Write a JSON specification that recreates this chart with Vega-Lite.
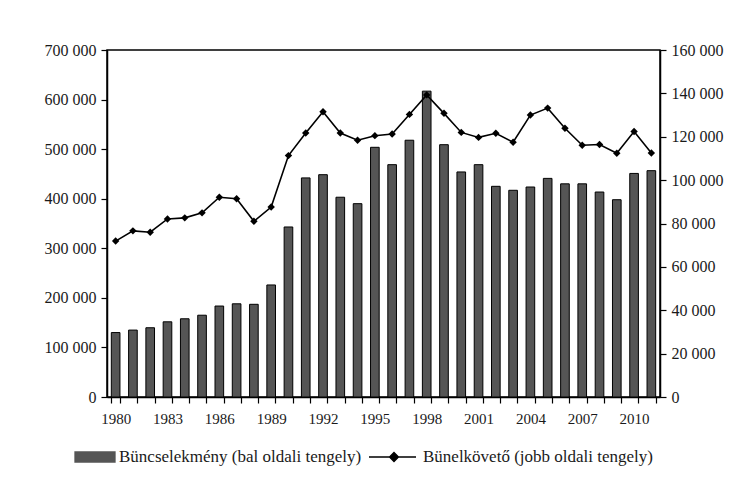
{
  "$schema": "https://vega.github.io/schema/vega-lite/v6.json",
  "width": 553,
  "height": 347,
  "autosize": "none",
  "padding": {"left": 107, "top": 50, "right": 89, "bottom": 90},
  "background": "white",
  "config": {
    "font": "Liberation Serif",
    "view": {"stroke": "black", "strokeWidth": 1.5},
    "axis": {"labelFont": "Liberation Serif", "labelFontSize": 15, "labelColor": "#1a1a1a", "domainColor": "black", "tickColor": "black", "domainWidth": 1.5, "tickWidth": 1.2, "grid": false, "title": null},
    "legend": {"labelFont": "Liberation Serif", "labelFontSize": 17, "labelColor": "#1a1a1a", "labelLimit": 0}
  },
  "data": {
    "values": [
      {"year": 1980, "series": "Büncselekmény (bal oldali tengely)", "value": 130000},
      {"year": 1981, "series": "Büncselekmény (bal oldali tengely)", "value": 135000},
      {"year": 1982, "series": "Büncselekmény (bal oldali tengely)", "value": 139700},
      {"year": 1983, "series": "Büncselekmény (bal oldali tengely)", "value": 151700},
      {"year": 1984, "series": "Büncselekmény (bal oldali tengely)", "value": 157800},
      {"year": 1985, "series": "Büncselekmény (bal oldali tengely)", "value": 165000},
      {"year": 1986, "series": "Büncselekmény (bal oldali tengely)", "value": 183500},
      {"year": 1987, "series": "Büncselekmény (bal oldali tengely)", "value": 188000},
      {"year": 1988, "series": "Büncselekmény (bal oldali tengely)", "value": 187000},
      {"year": 1989, "series": "Büncselekmény (bal oldali tengely)", "value": 226000},
      {"year": 1990, "series": "Büncselekmény (bal oldali tengely)", "value": 343000},
      {"year": 1991, "series": "Büncselekmény (bal oldali tengely)", "value": 442000},
      {"year": 1992, "series": "Büncselekmény (bal oldali tengely)", "value": 448500},
      {"year": 1993, "series": "Büncselekmény (bal oldali tengely)", "value": 403000},
      {"year": 1994, "series": "Büncselekmény (bal oldali tengely)", "value": 390000},
      {"year": 1995, "series": "Büncselekmény (bal oldali tengely)", "value": 503700},
      {"year": 1996, "series": "Büncselekmény (bal oldali tengely)", "value": 468700},
      {"year": 1997, "series": "Büncselekmény (bal oldali tengely)", "value": 518000},
      {"year": 1998, "series": "Büncselekmény (bal oldali tengely)", "value": 617000},
      {"year": 1999, "series": "Büncselekmény (bal oldali tengely)", "value": 509000},
      {"year": 2000, "series": "Büncselekmény (bal oldali tengely)", "value": 454000},
      {"year": 2001, "series": "Büncselekmény (bal oldali tengely)", "value": 468700},
      {"year": 2002, "series": "Büncselekmény (bal oldali tengely)", "value": 425000},
      {"year": 2003, "series": "Büncselekmény (bal oldali tengely)", "value": 417000},
      {"year": 2004, "series": "Büncselekmény (bal oldali tengely)", "value": 423600},
      {"year": 2005, "series": "Büncselekmény (bal oldali tengely)", "value": 441000},
      {"year": 2006, "series": "Büncselekmény (bal oldali tengely)", "value": 430000},
      {"year": 2007, "series": "Büncselekmény (bal oldali tengely)", "value": 430000},
      {"year": 2008, "series": "Büncselekmény (bal oldali tengely)", "value": 413500},
      {"year": 2009, "series": "Büncselekmény (bal oldali tengely)", "value": 398000},
      {"year": 2010, "series": "Büncselekmény (bal oldali tengely)", "value": 451000},
      {"year": 2011, "series": "Büncselekmény (bal oldali tengely)", "value": 456600},
      {"year": 1980, "series": "Bünelkövető (jobb oldali tengely)", "value": 71900},
      {"year": 1981, "series": "Bünelkövető (jobb oldali tengely)", "value": 76600},
      {"year": 1982, "series": "Bünelkövető (jobb oldali tengely)", "value": 76000},
      {"year": 1983, "series": "Bünelkövető (jobb oldali tengely)", "value": 82100},
      {"year": 1984, "series": "Bünelkövető (jobb oldali tengely)", "value": 82600},
      {"year": 1985, "series": "Bünelkövető (jobb oldali tengely)", "value": 84900},
      {"year": 1986, "series": "Bünelkövető (jobb oldali tengely)", "value": 92100},
      {"year": 1987, "series": "Bünelkövető (jobb oldali tengely)", "value": 91400},
      {"year": 1988, "series": "Bünelkövető (jobb oldali tengely)", "value": 81000},
      {"year": 1989, "series": "Bünelkövető (jobb oldali tengely)", "value": 87600},
      {"year": 1990, "series": "Bünelkövető (jobb oldali tengely)", "value": 111300},
      {"year": 1991, "series": "Bünelkövető (jobb oldali tengely)", "value": 121700},
      {"year": 1992, "series": "Bünelkövető (jobb oldali tengely)", "value": 131500},
      {"year": 1993, "series": "Bünelkövető (jobb oldali tengely)", "value": 121700},
      {"year": 1994, "series": "Bünelkövető (jobb oldali tengely)", "value": 118400},
      {"year": 1995, "series": "Bünelkövető (jobb oldali tengely)", "value": 120500},
      {"year": 1996, "series": "Bünelkövető (jobb oldali tengely)", "value": 121300},
      {"year": 1997, "series": "Bünelkövető (jobb oldali tengely)", "value": 130300},
      {"year": 1998, "series": "Bünelkövető (jobb oldali tengely)", "value": 139300},
      {"year": 1999, "series": "Bünelkövető (jobb oldali tengely)", "value": 130800},
      {"year": 2000, "series": "Bünelkövető (jobb oldali tengely)", "value": 122000},
      {"year": 2001, "series": "Bünelkövető (jobb oldali tengely)", "value": 119700},
      {"year": 2002, "series": "Bünelkövető (jobb oldali tengely)", "value": 121600},
      {"year": 2003, "series": "Bünelkövető (jobb oldali tengely)", "value": 117500},
      {"year": 2004, "series": "Bünelkövető (jobb oldali tengely)", "value": 130000},
      {"year": 2005, "series": "Bünelkövető (jobb oldali tengely)", "value": 133200},
      {"year": 2006, "series": "Bünelkövető (jobb oldali tengely)", "value": 123900},
      {"year": 2007, "series": "Bünelkövető (jobb oldali tengely)", "value": 116100},
      {"year": 2008, "series": "Bünelkövető (jobb oldali tengely)", "value": 116400},
      {"year": 2009, "series": "Bünelkövető (jobb oldali tengely)", "value": 112400},
      {"year": 2010, "series": "Bünelkövető (jobb oldali tengely)", "value": 122400},
      {"year": 2011, "series": "Bünelkövető (jobb oldali tengely)", "value": 112500}
    ]
  },
  "encoding": {
    "x": {
      "field": "year",
      "type": "ordinal",
      "scale": {"paddingInner": 0.5, "paddingOuter": 0.25},
      "axis": {"labelAngle": 0, "tickBand": "extent", "tickSize": 6, "labelPadding": 8, "labelExpr": "(datum.value - 1980) % 3 == 0 ? datum.value : ''"}
    },
    "color": {
      "field": "series",
      "type": "nominal",
      "scale": {"domain": ["Büncselekmény (bal oldali tengely)", "Bünelkövető (jobb oldali tengely)"], "range": ["#555555", "#000000"]},
      "legend": {
        "title": null,
        "orient": "none",
        "legendX": -13,
        "legendY": 396,
        "direction": "horizontal",
        "symbolSize": 400,
        "labelOffset": 3,
        "columnPadding": 4,
        "encode": {
          "symbols": {
            "update": {
              "shape": {"signal": "datum.value == 'Büncselekmény (bal oldali tengely)' ? 'M-3,-0.5H1V0.5H-3Z' : 'M-4,0H0.7M-1.5,-0.45L-1.05,0L-1.5,0.45L-1.95,0Z'"},
              "fill": {"signal": "datum.value == 'Büncselekmény (bal oldali tengely)' ? '#555555' : '#000000'"},
              "stroke": {"value": "#000000"},
              "strokeWidth": {"value": 1.3},
              "opacity": {"value": 1},
              "fillOpacity": {"value": 1}
            }
          }
        }
      }
    }
  },
  "layer": [
    {
      "transform": [{"filter": "datum.series == 'Büncselekmény (bal oldali tengely)'"}],
      "mark": {"type": "bar", "stroke": "#000000", "strokeWidth": 1},
      "encoding": {
        "y": {
          "field": "value",
          "type": "quantitative",
          "scale": {"domain": [0, 700000], "nice": false},
          "axis": {"orient": "left", "values": [0, 100000, 200000, 300000, 400000, 500000, 600000, 700000], "tickSize": 6, "labelPadding": 5, "labelFontSize": 16, "labelExpr": "replace(format(datum.value, ','), ',', ' ')"}
        }
      }
    },
    {
      "transform": [{"filter": "datum.series == 'Bünelkövető (jobb oldali tengely)'"}],
      "mark": {"type": "line", "strokeWidth": 1.6, "point": {"shape": "diamond", "filled": true, "size": 55, "color": "#000000"}},
      "encoding": {
        "y": {
          "field": "value",
          "type": "quantitative",
          "scale": {"domain": [0, 160000], "nice": false},
          "axis": {"orient": "right", "values": [0, 20000, 40000, 60000, 80000, 100000, 120000, 140000, 160000], "tickSize": 6, "labelPadding": 5, "labelFontSize": 16, "labelExpr": "replace(format(datum.value, ','), ',', ' ')"}
        }
      }
    }
  ],
  "resolve": {"scale": {"y": "independent"}}
}
